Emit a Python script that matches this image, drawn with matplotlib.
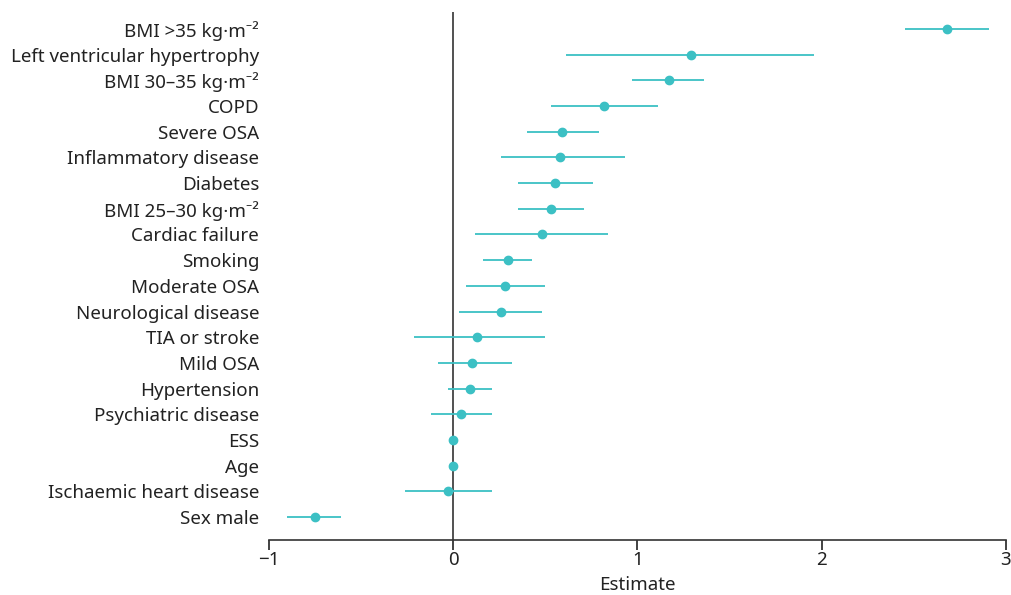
import matplotlib
matplotlib.use('Agg')
import matplotlib.pyplot as plt
import numpy as np

plt.rcParams['font.family'] = ['Noto Sans', 'DejaVu Sans']

labels = ['BMI >35 kg\u00b7m\u207b\u00b2', 'Left ventricular hypertrophy',
          'BMI 30\u201335 kg\u00b7m\u207b\u00b2', 'COPD', 'Severe OSA',
          'Inflammatory disease', 'Diabetes', 'BMI 25\u201330 kg\u00b7m\u207b\u00b2',
          'Cardiac failure', 'Smoking', 'Moderate OSA', 'Neurological disease',
          'TIA or stroke', 'Mild OSA', 'Hypertension', 'Psychiatric disease',
          'ESS', 'Age', 'Ischaemic heart disease', 'Sex male']
estimate = [2.68, 1.29, 1.17, 0.82, 0.59, 0.58, 0.55, 0.53, 0.48, 0.30,
            0.28, 0.26, 0.13, 0.10, 0.09, 0.04, 0.00, 0.00, -0.03, -0.75]
lower = [2.45, 0.61, 0.97, 0.53, 0.40, 0.26, 0.35, 0.35, 0.12, 0.16,
         0.07, 0.03, -0.21, -0.08, -0.03, -0.12, -0.005, -0.005, -0.26, -0.90]
upper = [2.91, 1.96, 1.36, 1.11, 0.79, 0.93, 0.76, 0.71, 0.84, 0.43,
         0.50, 0.48, 0.50, 0.32, 0.21, 0.21, 0.005, 0.005, 0.21, -0.61]

teal = '#3cc0c4'
y = np.arange(len(labels))[::-1]

fig = plt.figure(figsize=(10.11, 5.95), dpi=100)
ax = fig.add_axes([0.266, 0.092, 0.729, 0.888])

ax.hlines(y, lower, upper, color=teal, linewidth=1.3)
ax.plot(estimate, y, 'o', color=teal, markersize=6, zorder=3)
ax.axvline(0, color='#333333', linewidth=1.2, zorder=1)

ax.set_xlim(-1, 3)
ax.set_ylim(-0.9, 19.66)
ax.set_xticks([-1, 0, 1, 2, 3])
ax.set_xticklabels(['\u22121', '0', '1', '2', '3'])
ax.set_yticks(y)
ax.set_yticklabels(labels)
ax.tick_params(axis='y', length=0, pad=7, labelsize=13.5, colors='#222222')
ax.tick_params(axis='x', length=7, width=1.2, pad=1, labelsize=13.5, colors='#222222')
ax.set_xlabel('Estimate', fontsize=13.5, color='#222222', labelpad=5)

for s in ['top', 'right', 'left']:
    ax.spines[s].set_visible(False)
ax.spines['bottom'].set_linewidth(1.2)
ax.spines['bottom'].set_color('#333333')

fig.savefig('out.png', dpi=100)
